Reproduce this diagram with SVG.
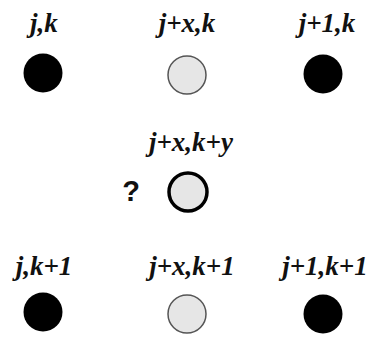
<svg xmlns="http://www.w3.org/2000/svg" width="376" height="337" viewBox="0 0 376 337">
<style>
.lbl{font-family:"Liberation Serif","Times New Roman",serif;font-weight:bold;font-style:italic;font-size:27px;fill:#111;text-anchor:middle}
.q{font-family:"Liberation Sans",Arial,sans-serif;font-weight:bold;font-size:29px;fill:#111;text-anchor:middle}
.known{fill:#000}
.interp{fill:#e6e6e6;stroke:#555;stroke-width:1.5}
.target{fill:#e6e6e6;stroke:#000;stroke-width:3.5}
</style>
<rect width="376" height="337" fill="#fff"/>
<g id="node-jk"><text class="lbl" x="44" y="32">j,k</text><circle class="known" cx="43" cy="73" r="19.5"/></g>
<g id="node-jxk"><text class="lbl" x="187" y="32">j+x,k</text><circle class="interp" cx="187" cy="75" r="19"/></g>
<g id="node-j1k"><text class="lbl" x="327" y="32">j+1,k</text><circle class="known" cx="323" cy="74" r="19.5"/></g>
<g id="node-jxky"><text class="lbl" x="191" y="151">j+x,k+y</text><text class="q" x="131" y="201">?</text><circle class="target" cx="188" cy="192" r="19"/></g>
<g id="node-jk1"><text class="lbl" x="44" y="275">j,k+1</text><circle class="known" cx="43" cy="312" r="19.5"/></g>
<g id="node-jxk1"><text class="lbl" x="192" y="275">j+x,k+1</text><circle class="interp" cx="187" cy="314" r="19"/></g>
<g id="node-j1k1"><text class="lbl" x="325" y="275">j+1,k+1</text><circle class="known" cx="323" cy="314" r="19.5"/></g>
<g id="connectors"></g>
</svg>
